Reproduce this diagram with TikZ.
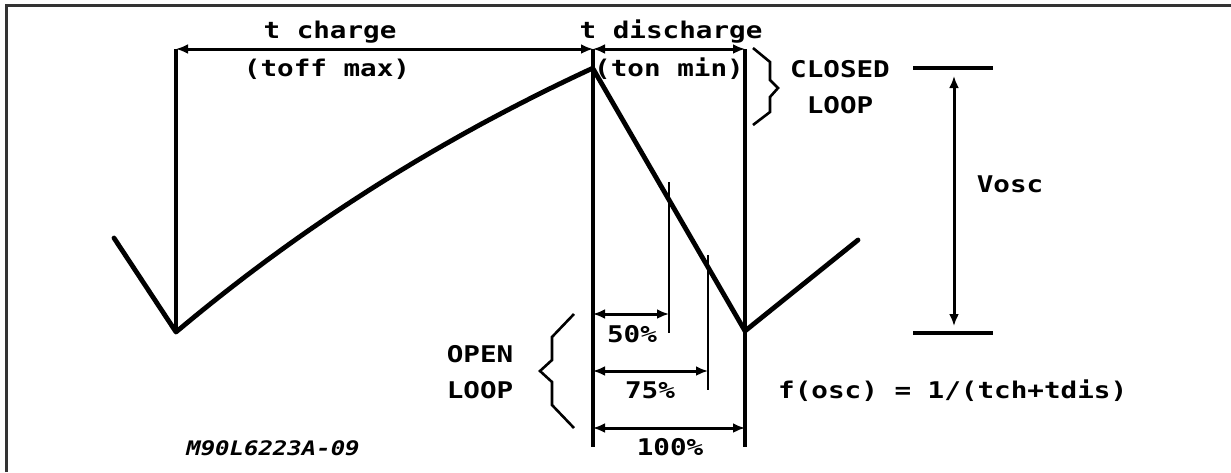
\documentclass[tikz,border=0pt]{standalone}
\usepackage{fontspec}
\newfontfamily\pf[FakeStretch=1.2]{DejaVu Sans Mono}
\usetikzlibrary{arrows.meta}
\begin{document}
\begin{tikzpicture}[x=1pt,y=-1pt,
  wave/.style={line width=4.8pt, line join=round, line cap=round},
  guide/.style={line width=3.2pt},
  marker/.style={line width=2.8pt},
  brace/.style={line width=2.6pt, line join=miter},
  dim/.style={line width=3pt,{Latex[length=12pt,width=10pt]}-{Latex[length=12pt,width=10pt]}},
  lbl/.style={inner sep=0pt, anchor=base, font=\pf\bfseries\fontsize{23}{27}\selectfont},
  code/.style={inner sep=0pt, anchor=base, font=\pf\bfseries\itshape\fontsize{20}{24}\selectfont},
]
\useasboundingbox (0,0) rectangle (1231,472);
% frame
\draw[line width=3pt, black!80] (6,472) -- (6,5) -- (1231,5);

% key points
\coordinate (w0) at (114,238);
\coordinate (m1) at (176,332);
\coordinate (pk) at (593,68);
\coordinate (m2) at (745,331);
\coordinate (w1) at (858,240);
\coordinate (t0) at (176,49);
\coordinate (t1) at (593,49);
\coordinate (t2) at (745,49);
\coordinate (b1) at (593,447);
\coordinate (b2) at (745,447);
\coordinate (p50t) at (669,182);
\coordinate (p50b) at (669,333);
\coordinate (p75t) at (708,255);
\coordinate (p75b) at (708,390);
\coordinate (a50l) at (593,314);
\coordinate (a50r) at (669,314);
\coordinate (a75l) at (593,371);
\coordinate (a75r) at (708,371);
\coordinate (a100l) at (593,428);
\coordinate (a100r) at (745,428);
\coordinate (v1l) at (913,68);
\coordinate (v1r) at (993,68);
\coordinate (v2l) at (913,333);
\coordinate (v2r) at (993,333);
\coordinate (vt) at (954,76);
\coordinate (vb) at (954,326);

% waveform
\draw[wave] (w0) -- (m1) -- plot[domain=0:1,samples=60] ({176+417*\x},{332-264*(1-exp(-0.6*\x))/0.451188}) -- (m2) -- (w1);

% vertical guides
\draw[guide] (t0) -- (m1);
\draw[guide] (t1) -- (b1);
\draw[guide] (t2) -- (b2);
\draw[marker] (p50t) -- (p50b);
\draw[marker] (p75t) -- (p75b);

% dimension arrows
\draw[dim] (t0) -- (t1);
\draw[dim] (t1) -- (t2);
\draw[dim] (a50l) -- (a50r);
\draw[dim] (a75l) -- (a75r);
\draw[dim] (a100l) -- (a100r);

% Vosc
\draw[guide] (v1l) -- (v1r);
\draw[guide] (v2l) -- (v2r);
\draw[dim] (vt) -- (vb);

% braces
\draw[brace] (753,48) -- (770,62) -- (770,80) -- (778,88) -- (770,97) -- (770,112) -- (753,125);
\draw[brace] (574,314) -- (552,337) -- (552,360) -- (540,371) -- (552,382) -- (552,405) -- (574,428);

% labels
\node[lbl] (tch) at (330,38) {t charge};
\node[lbl] (toff) at (327,76) {(toff max)};
\node[lbl] (tdis) at (671,38) {t discharge};
\node[lbl] (ton) at (669,76) {(ton min)};
\node[lbl] (closed) at (840,77) {CLOSED};
\node[lbl] (closedl) at (840,113) {LOOP};
\node[lbl] (vosc) at (1010,192) {Vosc};
\node[lbl] (open) at (480,362) {OPEN};
\node[lbl] (openl) at (480,398) {LOOP};
\node[lbl] (p50) at (632,342) {50\%};
\node[lbl] (p75) at (650,398) {75\%};
\node[lbl] (p100) at (670,455) {100\%};
\node[lbl, anchor=base west] (fosc) at (778,398) {f(osc) = 1/(tch+tdis)};
\node[code] (id) at (273,455) {M90L6223A-09};
\end{tikzpicture}
\end{document}
